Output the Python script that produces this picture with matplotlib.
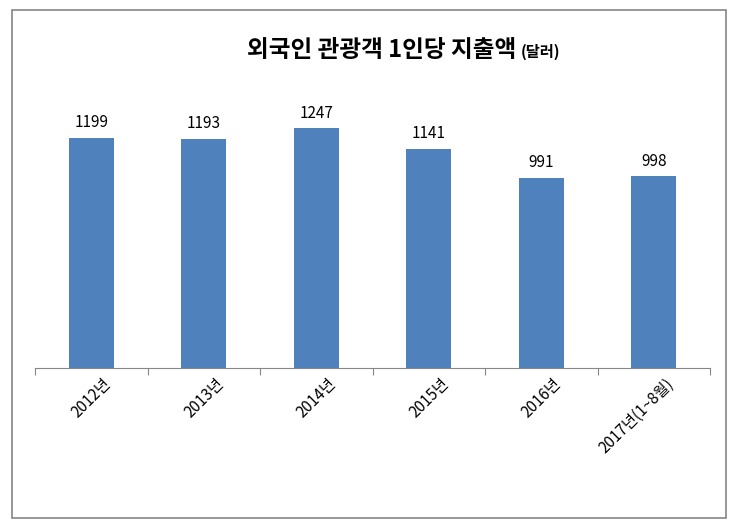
import matplotlib
matplotlib.use("Agg")
import matplotlib.pyplot as plt
from matplotlib.patches import Rectangle

categories = ["2012년", "2013년", "2014년", "2015년", "2016년", "2017년(1~8월)"]
values = [1199, 1193, 1247, 1141, 991, 998]

plt.rcParams["font.family"] = "Noto Sans CJK KR"
fig = plt.figure(figsize=(7.38, 5.28), dpi=100)
fig.patches.append(Rectangle((12/738, 10/528), 714/738, 508/528, transform=fig.transFigure,
                             fill=False, edgecolor="#868686", linewidth=1.2))
ax = fig.add_axes([35/738, 160/528, 675/738, 269/528])
x = list(range(len(categories)))
ax.bar(x, values, width=0.4, color="#4F81BD")
for xi, v in zip(x, values):
    ax.text(xi, v + 35, str(v), ha="center", va="bottom", fontsize=11)
ax.set_xlim(-0.5, len(categories) - 0.5)
ax.set_ylim(0, 1400)
for s in ["top", "right", "left"]:
    ax.spines[s].set_visible(False)
ax.spines["bottom"].set_color("#868686")
ax.set_yticks([])
ax.set_xticks([i - 0.5 for i in range(len(categories) + 1)])
ax.set_xticklabels([])
ax.tick_params(axis="x", length=5, color="#868686")
for xi, c in zip(x, categories):
    ax.text(xi + 0.1, -40, c, rotation=45, ha="right", va="top", fontsize=11,
            rotation_mode="anchor")
fig.text(0.70, 1 - 50/528, "외국인 관광객 1인당 지출액", fontsize=17, fontweight="bold",
         ha="right", va="center")
fig.text(0.705, 1 - 52/528, "(달러)", fontsize=11, fontweight="bold", ha="left", va="center")
fig.savefig("out.png", dpi=100)
